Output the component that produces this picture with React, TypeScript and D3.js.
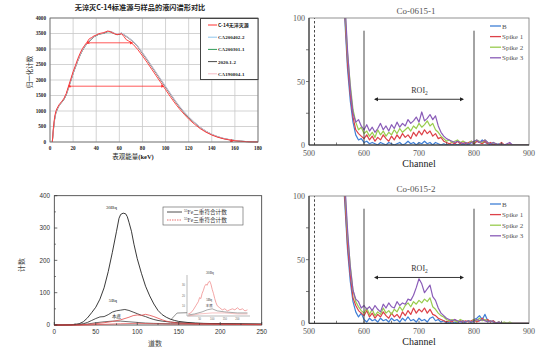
import React from 'react';
import * as d3 from 'd3';

// ---------- Panel 1 data (keV vs normalized counts) ----------
const keV = [2,3,4,5,6,8,10,12,14,16,18,20,22,24,26,28,30,32,34,36,38,40,42,44,46,48,50,52,54,56,58,60,62,64,66,68,70,72,76,80,84,88,92,96,100,104,108,112,116,120,125,130,135,140,145,150,155,160,165,170,175,180];
const c14 = [0,480,800,980,1080,1210,1300,1400,1560,1800,2030,2270,2470,2680,2860,3010,3120,3220,3330,3370,3420,3450,3490,3510,3520,3550,3580,3560,3520,3490,3460,3480,3490,3400,3300,3260,3210,3150,2980,2780,2570,2350,2130,1910,1690,1470,1260,1070,900,740,575,430,315,225,155,105,68,40,22,11,5,2];
const ca200402 = [0,450,760,950,1060,1200,1290,1390,1530,1760,1990,2230,2430,2630,2810,2970,3090,3190,3270,3340,3400,3440,3480,3500,3510,3540,3570,3560,3530,3500,3470,3490,3520,3470,3420,3370,3310,3250,3090,2890,2680,2460,2240,2020,1800,1580,1360,1160,980,820,640,480,350,250,175,120,80,50,28,14,6,3];
const ca200301 = [0,420,740,930,1040,1190,1280,1380,1520,1750,1980,2220,2420,2620,2800,2960,3080,3180,3260,3330,3390,3430,3470,3490,3500,3530,3560,3550,3520,3490,3460,3480,3510,3460,3410,3360,3300,3240,3080,2870,2660,2440,2220,2000,1780,1560,1340,1140,960,800,630,470,345,245,170,115,78,48,27,13,6,3];
const s2020 = [0,400,720,920,1030,1180,1270,1370,1510,1740,1970,2210,2410,2610,2790,2950,3070,3170,3250,3320,3390,3440,3470,3490,3510,3530,3560,3570,3540,3500,3470,3470,3500,3450,3400,3350,3290,3230,3070,2860,2650,2430,2210,1990,1770,1550,1330,1130,950,790,620,465,340,240,168,112,75,46,26,13,5,2];
const ca190804 = [0,430,750,940,1050,1190,1290,1390,1530,1760,1990,2230,2430,2630,2810,2970,3090,3190,3270,3340,3400,3450,3480,3500,3520,3550,3570,3560,3530,3500,3480,3500,3510,3460,3410,3360,3300,3240,3080,2880,2670,2450,2230,2010,1790,1570,1350,1150,970,810,635,475,348,248,172,118,79,49,27,13,6,3];
const p1Names = ['C-14无淬灭源','CA200402-2','CA200301-1','2020.1-2','CA190804-1'];
const p1Colors = ['#ff3030','#8ec5ec','#2f9a58','#4a4a4a','#f5bcc6'];
const p1XTicks = [0,20,40,60,80,100,120,140,160,180];
const p1YTicks = [0,500,1000,1500,2000,2500,3000,3500,4000];
const p1Arrows = [[33,71,3200],[17,98,1800]];
const p1Marker = [157,30];

// ---------- Panels 2 & 4 data (channel vs counts) ----------
const channels = d3.range(560, 901, 5);
const b1 = [140,100,60,35,18,8,4,5,2,3,1,2,1,0,2,1,0,2,1,0,1,2,0,1,3,1,2,0,2,1,3,1,2,0,2,1,0,1,0,1,0,1,0,1,0,1,0,2,1,3,2,4,2,1,0,1,0,1,0,0,0,0,0,0,0,0,0,0,0];
const s1a = [150,105,65,40,22,12,9,7,5,8,4,7,3,6,4,8,5,3,7,4,8,5,9,6,8,5,10,7,11,8,12,9,11,7,9,5,6,3,2,1,2,1,3,1,3,1,2,3,1,3,2,1,3,1,2,0,1,0,2,0,0,1,0,0,0,0,0,0,0];
const s2a = [160,110,72,48,28,18,12,14,9,11,7,10,6,12,8,11,7,10,8,12,9,13,10,12,14,11,15,13,17,14,16,19,15,17,12,10,7,5,3,4,2,3,4,2,3,2,1,3,2,4,3,2,4,2,1,2,1,0,1,0,0,0,0,0,0,0,0,0,0];
const s3a = [170,115,75,45,25,18,20,15,12,16,11,14,10,13,17,12,15,11,16,13,18,14,17,15,20,17,19,22,18,26,19,21,24,20,23,15,10,7,5,4,3,2,3,2,1,2,1,2,3,4,2,3,4,2,1,2,1,0,1,0,1,2,0,0,0,0,0,0,0];
const b2 = [130,95,58,33,17,9,5,8,3,1,4,2,3,1,4,2,3,1,4,2,3,1,4,2,5,2,3,1,4,2,3,1,4,5,2,3,1,2,0,1,0,1,0,2,0,1,2,0,3,4,6,3,7,2,1,2,0,1,0,0,0,0,0,0,0,0,0,0,0];
const s1b = [145,100,62,38,20,14,10,8,6,10,5,8,4,7,5,9,6,4,8,5,7,4,9,6,10,7,12,8,11,9,12,8,11,7,6,4,3,2,1,2,1,3,1,2,1,2,1,2,3,1,2,4,2,3,1,2,0,1,0,0,0,0,0,0,0,0,0,0,0];
const s2b = [155,108,70,46,26,17,13,10,8,12,7,11,6,9,7,12,8,10,7,11,9,13,10,14,16,13,17,15,18,16,19,17,20,13,11,8,6,5,3,2,3,2,1,3,2,1,2,1,3,2,4,2,3,1,2,1,0,1,0,1,0,1,0,0,0,0,0,0,0];
const s3b = [165,112,74,44,26,19,17,12,14,11,13,10,14,11,9,15,12,16,13,12,17,14,16,15,19,18,22,28,35,31,24,27,30,21,18,12,8,6,4,3,2,3,2,1,2,1,2,1,2,3,2,3,2,1,2,1,0,1,0,0,0,0,0,0,0,0,0,0,0];
const coNames = ['B','Spike 1','Spike 2','Spike 3'];
const coColors = ['#3f7fd6','#dd4148','#99cc4e','#8a5cb8'];
const coXTicks = [500,600,700,800,900];
const coYTicks = [0,50,100];
const roiLines = [600,800];
const roiArrow = [620,780,36];

// ---------- Panel 3 data (道数 vs 计数) ----------
const fe30 = [[0,0],[10,0],[20,1],[25,2],[30,4],[35,10],[40,22],[45,38],[50,55],[55,80],[60,115],[65,165],[70,225],[75,290],[78,330],[80,342],[83,346],[86,344],[88,335],[90,318],[93,290],[96,250],[100,205],[105,160],[110,120],[115,90],[120,65],[125,45],[130,32],[135,24],[140,18],[145,14],[150,11],[160,8],[170,6],[180,5],[200,4],[220,3],[250,2]];
const fe5 = [[0,0],[20,0],[30,2],[35,4],[40,8],[45,14],[50,20],[55,25],[60,26],[65,32],[70,40],[75,44],[80,46],[85,48],[90,45],[95,40],[100,35],[105,30],[110,26],[115,21],[120,17],[125,14],[130,12],[140,9],[150,7],[170,5],[200,4],[250,3]];
const feBg = [[0,0],[20,0],[30,1],[40,3],[50,7],[60,10],[70,12],[80,12],[90,10],[100,8],[110,6],[120,5],[140,4],[170,3],[200,3],[250,2]];
const feT30 = [[0,0],[30,0],[40,2],[50,4],[60,7],[70,11],[80,16],[90,24],[95,29],[100,31],[105,30],[110,33],[115,30],[120,26],[125,21],[130,16],[135,12],[140,9],[150,6],[170,4],[200,3],[250,2]];
const feT5 = [[0,0],[40,0],[60,2],[80,4],[100,5],[120,4],[140,3],[160,3],[200,2],[250,1]];
const connector = [[140,15],[148,37],[160,38]];
const insetT30 = [[5,2],[15,3],[25,6],[35,10],[45,14],[50,18],[55,17],[60,22],[65,25],[70,29],[75,31],[80,30],[85,33],[90,34],[95,31],[100,26],[105,22],[110,17],[115,13],[120,10],[130,8],[140,6],[150,7],[160,5],[170,6],[180,7],[190,6],[200,8],[210,6],[220,7],[230,5],[240,6]];
const insetD5 = [[5,1],[30,2],[60,4],[80,6],[100,7],[120,5],[150,4],[200,3],[240,3]];
const insetBg = [[5,0],[50,2],[100,3],[150,3],[200,2],[240,2]];
const p3XTicks = [0,50,100,150,200,250];
const p3YTicks = [0,100,200,300,400];
const p3Legend = ['二重符合计数','三重符合计数'];

const serif = '"Liberation Serif", "DejaVu Serif", serif';
const sans = '"Liberation Sans", Arial, sans-serif';
const cjk = '"Noto Sans CJK SC", sans-serif';

function Panel1() {
  const x = d3.scaleLinear().domain([0, 180]).range([50, 258]);
  const y = d3.scaleLinear().domain([0, 4000]).range([142, 18]);
  const line = d3.line<number>().x((_, i) => x(keV[i])).y(d => y(d));
  const series = [c14, ca200402, ca200301, s2020, ca190804];
  const order = [2, 3, 1, 4, 0];
  return (
    <g>
      <text x={140} y={10} textAnchor="middle" fontFamily={cjk} fontSize={7.2} fontWeight="bold" fill="#222">无淬灭C-14标准源与样品的液闪谱形对比</text>
      <rect x={50} y={18} width={208} height={124} fill="#fff" />
      {p1XTicks.map(t => <line key={'gx' + t} x1={x(t)} x2={x(t)} y1={18} y2={142} stroke="#c8c8c8" strokeWidth={0.8} />)}
      {p1YTicks.map(t => <line key={'gy' + t} x1={50} x2={258} y1={y(t)} y2={y(t)} stroke="#c8c8c8" strokeWidth={0.8} />)}
      {order.map(i => <path key={'s' + i} d={line(series[i]) || ''} fill="none" stroke={p1Colors[i]} strokeWidth={i === 0 ? 0.9 : 0.8} />)}
      {p1Arrows.map((a, i) => (
        <g key={'a' + i}>
          <line x1={x(a[0])} x2={x(a[1])} y1={y(a[2])} y2={y(a[2])} stroke="#ff3030" strokeWidth={0.8} />
          <path d={`M${x(a[0])},${y(a[2]) - 2}L${x(a[0]) - 1.6},${y(a[2]) + 1}L${x(a[0]) + 1.6},${y(a[2]) + 1}Z`} fill="#ff3030" />
          <path d={`M${x(a[1]) + 1},${y(a[2])}L${x(a[1]) - 2},${y(a[2]) - 1.6}L${x(a[1]) - 2},${y(a[2]) + 1.6}Z`} fill="#ff3030" />
        </g>
      ))}
      <path d={`M${x(p1Marker[0])},${y(p1Marker[1]) - 2}L${x(p1Marker[0]) - 1.6},${y(p1Marker[1]) + 1}L${x(p1Marker[0]) + 1.6},${y(p1Marker[1]) + 1}Z`} fill="#ff3030" />
      <rect x={50} y={18} width={208} height={124} fill="none" stroke="#666" strokeWidth={0.8} />
      {p1YTicks.map(t => <text key={'ly' + t} x={46} y={y(t) + 1.8} textAnchor="end" fontFamily={serif} fontWeight="bold" fontSize={5.2} fill="#222">{t}</text>)}
      {p1XTicks.map(t => <text key={'lx' + t} x={x(t)} y={150} textAnchor="middle" fontFamily={serif} fontWeight="bold" fontSize={5.2} fill="#222">{t}</text>)}
      <text x={133} y={159} textAnchor="middle" fontFamily={cjk} fontSize={6.5} fill="#222">表观能量<tspan fontFamily={serif} fontWeight="bold">(keV)</tspan></text>
      <text transform="translate(32,72) rotate(-90)" textAnchor="middle" fontFamily={cjk} fontSize={6.5} fill="#222">归一化计数</text>
      <rect x={200.5} y={18.5} width={57.5} height={61} fill="#fff" stroke="#444" strokeWidth={1} />
      {p1Names.map((n, i) => (
        <g key={'lg' + i}>
          <line x1={208} x2={217} y1={25 + i * 12.2} y2={25 + i * 12.2} stroke={p1Colors[i]} strokeWidth={1} />
          <text x={218} y={27 + i * 12.2} fontFamily={i === 0 ? cjk : serif} fontWeight="bold" fontSize={5} fill="#222">{n}</text>
        </g>
      ))}
    </g>
  );
}

function CoPanel({ top, bottom, title, data }: { top: number; bottom: number; title: string; data: number[][] }) {
  const x = d3.scaleLinear().domain([500, 900]).range([309, 529]);
  const y = d3.scaleLinear().domain([0, 100]).range([bottom, top]);
  const line = d3.line<number>().x((_, i) => x(channels[i])).y(d => y(d));
  const clipId = 'clip' + Math.round(top);
  const lgTop = top + 8;
  return (
    <g>
      <defs>
        <clipPath id={clipId}><rect x={309} y={top} width={220} height={bottom - top} /></clipPath>
      </defs>
      <text x={416} y={top - 4} textAnchor="middle" fontFamily={serif} fontSize={9} fill="#555">{title}</text>
      <g clipPath={`url(#${clipId})`}>
        {data.map((s, i) => <path key={i} d={line(s) || ''} fill="none" stroke={coColors[i]} strokeWidth={1.2} strokeLinejoin="round" />)}
      </g>
      <line x1={x(510)} x2={x(510)} y1={y(0)} y2={y(100)} stroke="#333" strokeWidth={0.9} strokeDasharray="2.5,2" />
      {roiLines.map(c => <line key={c} x1={x(c)} x2={x(c)} y1={y(0)} y2={y(90)} stroke="#333" strokeWidth={0.9} />)}
      <line x1={x(roiArrow[0])} x2={x(roiArrow[1])} y1={y(roiArrow[2])} y2={y(roiArrow[2])} stroke="#222" strokeWidth={0.9} />
      <path d={`M${x(roiArrow[0]) - 1},${y(roiArrow[2])}l4,-2l0,4Z`} fill="#222" />
      <path d={`M${x(roiArrow[1]) + 1},${y(roiArrow[2])}l-4,-2l0,4Z`} fill="#222" />
      <text x={x(701)} y={y(roiArrow[2]) - 6} textAnchor="middle" fontFamily={serif} fontSize={8} fill="#333">ROI<tspan fontSize={5.5} dy={2}>2</tspan></text>
      <rect x={309} y={top} width={220} height={bottom - top} fill="none" stroke="#777" strokeWidth={0.8} />
      <line x1={309} x2={309} y1={top} y2={bottom} stroke="#222" strokeWidth={1} />
      <line x1={309} x2={529} y1={bottom} y2={bottom} stroke="#222" strokeWidth={1} />
      {[25, 50, 75].map(t => <line key={'ty' + t} x1={306} x2={309} y1={y(t)} y2={y(t)} stroke="#444" strokeWidth={0.7} />)}
      {[550, 600, 650, 700, 750, 800, 850].map(t => <line key={'tx' + t} x1={x(t)} x2={x(t)} y1={bottom} y2={bottom - 2.5} stroke="#444" strokeWidth={0.7} />)}
      {coYTicks.map(t => <text key={'ly' + t} x={305} y={y(t) + 3} textAnchor="end" fontFamily={serif} fontSize={8} fill="#555">{t}</text>)}
      {coXTicks.map(t => <text key={'lx' + t} x={x(t)} y={bottom + 11} textAnchor="middle" fontFamily={serif} fontSize={8} fill="#555">{t}</text>)}
      <text x={419} y={bottom + 22} textAnchor="middle" fontFamily={serif} fontSize={10} fill="#222">Channel</text>
      {coNames.map((n, i) => (
        <g key={'lg' + i}>
          <line x1={490} x2={501} y1={lgTop + i * 10.6} y2={lgTop + i * 10.6} stroke={coColors[i]} strokeWidth={1.3} />
          <text x={502} y={lgTop + 2.5 + i * 10.6} fontFamily={serif} fontSize={7} fill="#555">{n}</text>
        </g>
      ))}
    </g>
  );
}

function Panel3() {
  const x = d3.scaleLinear().domain([0, 250]).range([54.3, 261.7]);
  const y = d3.scaleLinear().domain([0, 400]).range([325, 195.7]);
  const line = d3.line<number[]>().x(d => x(d[0])).y(d => y(d[1]));
  const ix = d3.scaleLinear().domain([0, 250]).range([187, 250]);
  const iy = d3.scaleLinear().domain([0, 40]).range([316, 275]);
  const iline = d3.line<number[]>().x(d => ix(d[0])).y(d => iy(d[1]));
  return (
    <g>
      <rect x={54.3} y={195.7} width={207.4} height={129.3} fill="#fff" stroke="#333" strokeWidth={0.8} />
      <path d={line(feBg) || ''} fill="none" stroke="#333" strokeWidth={0.7} />
      <path d={line(fe5) || ''} fill="none" stroke="#222" strokeWidth={0.8} />
      <path d={line(fe30) || ''} fill="none" stroke="#222" strokeWidth={0.9} />
      <path d={line(feT5) || ''} fill="none" stroke="#e34a4a" strokeWidth={0.7} />
      <path d={line(feT30) || ''} fill="none" stroke="#e34a4a" strokeWidth={0.8} />
      <path d={line(connector) || ''} fill="none" stroke="#444" strokeWidth={0.6} />
      <text x={x(69)} y={y(358)} textAnchor="middle" fontFamily={serif} fontSize={5} fill="#222">30Bq</text>
      <text x={x(70.7)} y={y(70)} textAnchor="middle" fontFamily={serif} fontSize={5} fill="#222">5Bq</text>
      <text x={x(75)} y={y(22)} textAnchor="middle" fontFamily={cjk} fontSize={4.5} fill="#222">本底</text>
      {/* inset */}
      <line x1={187} x2={187} y1={275} y2={316} stroke="#777" strokeWidth={0.5} />
      <line x1={187} x2={250} y1={316} y2={316} stroke="#777" strokeWidth={0.5} />
      {[10, 20, 30].map(t => <text key={'iy' + t} x={185} y={iy(t) + 1} textAnchor="end" fontFamily={sans} fontSize={2.6} fill="#666">{t}</text>)}
      {[50, 100, 150, 200].map(t => <text key={'ix' + t} x={ix(t)} y={319.5} textAnchor="middle" fontFamily={sans} fontSize={2.6} fill="#666">{t}</text>)}
      <path d={iline(insetBg) || ''} fill="none" stroke="#e88" strokeWidth={0.5} />
      <path d={iline(insetD5) || ''} fill="none" stroke="#555" strokeWidth={0.5} />
      <path d={iline(insetT30) || ''} fill="none" stroke="#ee8080" strokeWidth={0.7} />
      <text x={ix(91)} y={iy(41)} textAnchor="middle" fontFamily={serif} fontSize={3.6} fill="#333">30Bq</text>
      <text x={ix(88)} y={iy(15)} textAnchor="middle" fontFamily={serif} fontSize={3.6} fill="#333">5Bq</text>
      <text x={ix(88)} y={iy(8.5)} textAnchor="middle" fontFamily={cjk} fontSize={3.4} fill="#333">本底</text>
      {p3YTicks.map(t => <line key={'ty' + t} x1={54.3} x2={57.3} y1={y(t)} y2={y(t)} stroke="#333" strokeWidth={0.7} />)}
      {[50, 150, 250, 350].map(t => <line key={'my' + t} x1={54.3} x2={56} y1={y(t)} y2={y(t)} stroke="#333" strokeWidth={0.6} />)}
      {p3XTicks.map(t => <line key={'tx' + t} x1={x(t)} x2={x(t)} y1={325} y2={322} stroke="#333" strokeWidth={0.7} />)}
      {[25, 75, 125, 175, 225].map(t => <line key={'mx' + t} x1={x(t)} x2={x(t)} y1={325} y2={323.3} stroke="#333" strokeWidth={0.6} />)}
      {p3YTicks.map(t => <text key={'ly' + t} x={50} y={y(t) + 2.2} textAnchor="end" fontFamily={sans} fontSize={6.3} fill="#333">{t}</text>)}
      {p3XTicks.map(t => <text key={'lx' + t} x={x(t)} y={334} textAnchor="middle" fontFamily={sans} fontSize={6.3} fill="#333">{t}</text>)}
      <text x={155} y={346} textAnchor="middle" fontFamily={cjk} fontSize={7} fill="#444">道数</text>
      <text transform="translate(24,265) rotate(-90)" textAnchor="middle" fontFamily={cjk} fontSize={7} fill="#444">计数</text>
      <rect x={163} y={207} width={80} height={18} fill="#fff" stroke="#555" strokeWidth={0.6} />
      {p3Legend.map((n, i) => (
        <g key={'lg' + i}>
          <line x1={167} x2={182} y1={212 + i * 8} y2={212 + i * 8} stroke={i === 0 ? '#222' : '#e34a4a'} strokeWidth={0.8} strokeDasharray={i === 0 ? undefined : '1.5,1'} />
          <text x={184} y={214.3 + i * 8} fontFamily={cjk} fontSize={5.6} fill="#333"><tspan fontFamily={serif} fontSize={3.6} dy={-2}>55</tspan><tspan fontFamily={serif} dy={2}>Fe</tspan>{n}</text>
        </g>
      ))}
    </g>
  );
}

export default function App() {
  return (
    <svg width={552} height={355} style={{ position: 'absolute', left: 0, top: 0, background: '#fff' }}>
      <rect width={552} height={355} fill="#fff" />
      <Panel1 />
      <CoPanel top={18} bottom={145} title="Co-0615-1" data={[b1, s1a, s2a, s3a]} />
      <Panel3 />
      <CoPanel top={196} bottom={323.3} title="Co-0615-2" data={[b2, s1b, s2b, s3b]} />
    </svg>
  );
}
